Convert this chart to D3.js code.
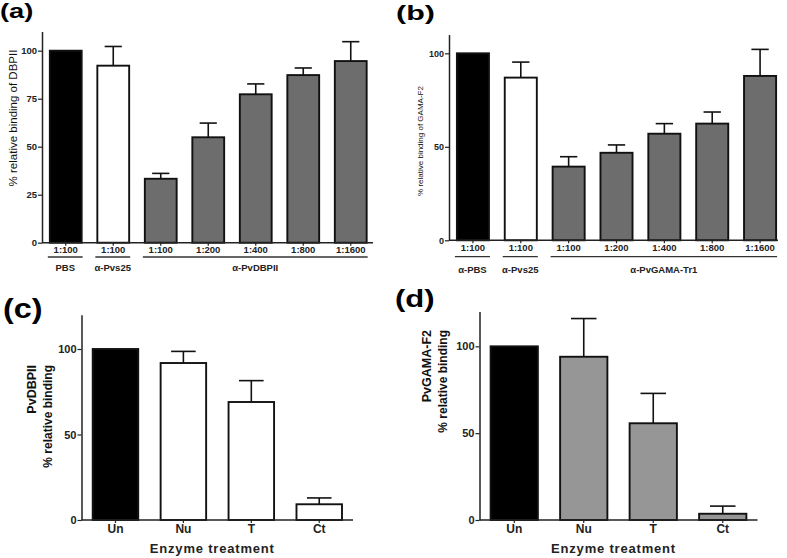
<!DOCTYPE html>
<html><head><meta charset="utf-8">
<script src="https://cdn.jsdelivr.net/npm/d3@7"></script>
<style>
html,body{margin:0;padding:0;background:#fff;}
svg{display:block;}
svg text{font-family:"Liberation Sans",Arial,sans-serif;}
</style></head>
<body>
<svg id="c" width="787" height="558"></svg>
<script>
// ---------- DATA ----------
const dilutionsA = ["1:100","1:100","1:100","1:200","1:400","1:800","1:1600"];
const valuesA    = [100, 92.2, 33.3, 54.9, 77.3, 87.3, 94.6];
const errorsA    = [0, 10.0, 2.8, 7.4, 5.4, 3.7, 10.1];
const groupsA    = ["PBS", "α-Pvs25", "α-PvDBPII"];
const groupSpanA = [[0,0],[1,1],[2,6]];
const ticksA     = [0, 25, 50, 75, 100];

const dilutionsB = ["1:100","1:100","1:100","1:200","1:400","1:800","1:1600"];
const valuesB    = [100, 87.0, 39.4, 46.8, 57.0, 62.4, 87.9];
const errorsB    = [0, 8.3, 5.3, 4.2, 5.4, 6.2, 14.2];
const groupsB    = ["α-PBS", "α-Pvs25", "α-PvGAMA-Tr1"];
const groupSpanB = [[0,0],[1,1],[2,6]];
const ticksB     = [0, 50, 100];

const enzymes    = ["Un","Nu","T","Ct"];
const valuesC    = [100, 91.8, 69.0, 9.2];
const errorsC    = [0, 6.8, 12.5, 3.7];
const valuesD    = [100, 94.0, 55.7, 3.6];
const errorsD    = [0, 22.0, 17.2, 4.4];
const ticksCD    = [0, 50, 100];

// ---------- DRAW ----------
const FONT = "'Liberation Sans', Arial, sans-serif";
const svg = d3.select("#c");
const AX = "#222";

function panel(o){
  const g = svg.append("g").attr("font-family",FONT);
  const x = d3.scaleBand().domain(d3.range(o.values.length))
     .range(o.xr).paddingInner(o.pad).paddingOuter(o.pad/2);
  const y = d3.scaleLinear().domain([0, o.ymax]).range(o.yr);
  const bw = x.bandwidth();
  const data = o.values.map((v,i)=>({i, v, e:o.errors[i]}));

  // error bars
  const eg = g.append("g").attr("stroke","#111").attr("stroke-width",1.6);
  data.filter(d=>d.e>0).forEach(d=>{
    const cx = x(d.i)+bw/2;
    eg.append("line").attr("x1",cx).attr("x2",cx).attr("y1",y(d.v)).attr("y2",y(d.v+d.e));
    eg.append("line").attr("x1",cx-bw*0.27).attr("x2",cx+bw*0.27).attr("y1",y(d.v+d.e)).attr("y2",y(d.v+d.e));
  });
  // bars
  g.append("g").selectAll("rect").data(data).join("rect")
    .attr("x",d=>x(d.i)).attr("width",bw)
    .attr("y",d=>y(d.v)).attr("height",d=>y(0)-y(d.v))
    .attr("fill",d=>o.fills[d.i]).attr("stroke","#111").attr("stroke-width",1.9);

  // y axis
  const ya = g.append("g").attr("transform",`translate(${o.xr[0]},0)`)
    .call(d3.axisLeft(y).tickValues(o.ticks).tickSize(4).tickPadding(1).tickSizeOuter(0));
  ya.attr("font-family",FONT);
  ya.select(".domain").attr("stroke",AX).attr("stroke-width",1.5);
  ya.selectAll(".tick line").attr("stroke",AX).attr("stroke-width",1.2);
  ya.selectAll("text").attr("font-size",o.ytf).attr("font-weight","bold").attr("fill","#222");

  // x axis
  const xa = g.append("g").attr("transform",`translate(0,${o.yr[0]})`)
    .call(d3.axisBottom(x).tickFormat(i=>o.cats[i]).tickSize(3).tickPadding(o.xpad).tickSizeOuter(0));
  xa.attr("font-family",FONT);
  xa.select(".domain").attr("d",`M${o.xr[0]},0H${o.xend}`).attr("stroke",AX).attr("stroke-width",1.5);
  xa.selectAll(".tick line").attr("stroke",AX).attr("stroke-width",1.2);
  xa.selectAll("text").attr("font-size",o.xtf).attr("font-weight","bold").attr("fill","#222");

  // groups
  if(o.groups){
    o.groups.forEach((name,k)=>{
      const [a,b] = o.spans[k];
      const x1 = x(a)-2, x2 = x(b)+bw+1;
      g.append("line").attr("x1",x1).attr("x2",x2).attr("y1",o.gLineY).attr("y2",o.gLineY)
        .attr("stroke","#333").attr("stroke-width",1.3);
      g.append("text").attr("x",(x1+x2)/2).attr("y",o.gTextY).attr("text-anchor","middle")
        .attr("font-size",o.xtf).attr("font-weight","bold").attr("fill","#222").text(name);
    });
  }
  if(o.xtitle){
    g.append("text").attr("x",(o.xr[0]+o.xend)/2-5).attr("y",o.xtitleY).attr("text-anchor","middle")
      .attr("font-size",13).attr("font-weight","bold").attr("letter-spacing","0.8px").attr("fill","#222").text(o.xtitle);
  }
  // y titles
  o.ytitles.forEach(t=>{
    g.append("text").attr("transform",`translate(${t.x},${t.y}) rotate(-90)`)
      .attr("text-anchor",t.anchor).attr("font-size",t.fs).attr("font-weight",t.fw).attr("fill","#111").text(t.text);
  });
  // panel letter
  g.append("text").attr("transform",`translate(${o.lab.x},${o.lab.y}) scale(${o.lab.sx},1)`)
    .attr("font-size",o.lab.fs).attr("font-weight","bold").attr("fill","#000").text(o.lab.t);
}

const gray1 = "#6d6d6d", gray2 = "#969696";

panel({values:valuesA, errors:errorsA, cats:dilutionsA, fills:["#000","#fff",gray1,gray1,gray1,gray1,gray1],
  xr:[42,374.5], xend:373, yr:[242.7,31.5], ymax:110, pad:0.33, ticks:ticksA,
  ytf:9.5, xtf:9.5, xpad:1, groups:groupsA, spans:groupSpanA, gLineY:257, gTextY:271,
  ytitles:[{x:17,y:118,anchor:"middle",fs:11.5,fw:"normal",text:"% relative binding of DBPII"}],
  lab:{x:0,y:17.5,fs:21,sx:1.3,t:"(a)"}});

panel({values:valuesB, errors:errorsB, cats:dilutionsB, fills:["#000","#fff",gray1,gray1,gray1,gray1,gray1],
  xr:[449,784], xend:778, yr:[240.3,34.6], ymax:110, pad:0.33, ticks:ticksB,
  ytf:9, xtf:9.5, xpad:1, groups:groupsB, spans:groupSpanB, gLineY:256.7, gTextY:272.5,
  ytitles:[{x:423,y:141,anchor:"middle",fs:8,fw:"normal",text:"% relative binding of GAMA-F2"}],
  lab:{x:396,y:19.5,fs:21,sx:1.45,t:"(b)"}});

panel({values:valuesC, errors:errorsC, cats:enzymes, fills:["#000","#fff","#fff","#fff"],
  xr:[81.5,353.2], xend:353, yr:[520,314.8], ymax:120, pad:0.33, ticks:ticksCD,
  ytf:11, xtf:12, xpad:1, xtitle:"Enzyme treatment", xtitleY:552.5,
  ytitles:[{x:36,y:365,anchor:"end",fs:12.5,fw:"bold",text:"PvDBPII"},
           {x:51.5,y:365,anchor:"end",fs:12,fw:"bold",text:"% relative binding"}],
  lab:{x:3,y:318,fs:27,sx:1.2,t:"(c)"}});

panel({values:valuesD, errors:errorsD, cats:enzymes, fills:["#000",gray2,gray2,gray2],
  xr:[479.5,757.5], xend:757.5, yr:[520,311.6], ymax:120, pad:0.32, ticks:ticksCD,
  ytf:11, xtf:12, xpad:1, xtitle:"Enzyme treatment", xtitleY:552.5,
  ytitles:[{x:431,y:330,anchor:"end",fs:12.5,fw:"bold",text:"PvGAMA-F2"},
           {x:446.5,y:330,anchor:"end",fs:12,fw:"bold",text:"% relative binding"}],
  lab:{x:395,y:306.5,fs:23,sx:1.35,t:"(d)"}});
</script>
</body></html>
